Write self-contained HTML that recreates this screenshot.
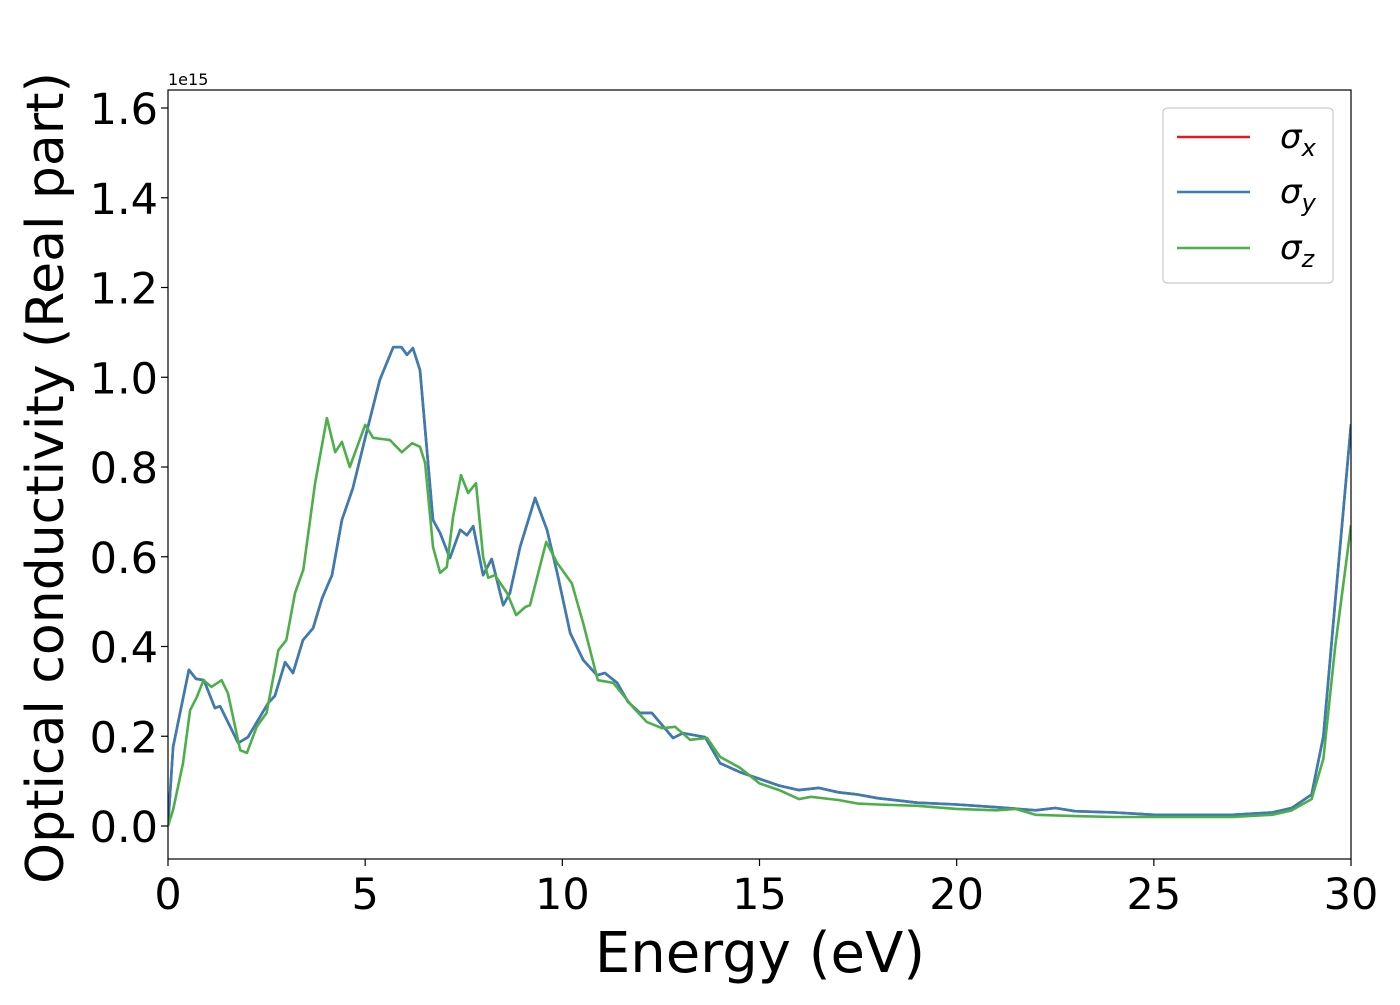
<!DOCTYPE html>
<html><head><meta charset="utf-8"><style>
body{margin:0;background:#fff}
svg text{font-family:"DejaVu Sans","Liberation Sans",sans-serif;fill:#000}
</style></head><body>
<svg width="1400" height="1000" viewBox="0 0 1400 1000">
<g id="plot"></g>
<text x="168" y="85" font-size="16">1e15</text>
<text x="760" y="972" font-size="56" text-anchor="middle">Energy (eV)</text>
<text transform="translate(63,478) rotate(-90)" font-size="52" text-anchor="middle">Optical conductivity (Real part)</text>
<g>
<rect x="1163" y="108" width="170" height="175" rx="4" fill="#fff" stroke="#ccc" stroke-width="1.2"/>
<g><line x1="1177" x2="1250" y1="137" y2="137" stroke="#e41a1c" stroke-width="2.6"/><text x="1280" y="148" font-size="34" font-style="italic">σ<tspan font-size="24" dy="8">x</tspan></text></g>
<g><line x1="1177" x2="1250" y1="192" y2="192" stroke="#377eb8" stroke-width="2.6"/><text x="1280" y="203" font-size="34" font-style="italic">σ<tspan font-size="24" dy="8">y</tspan></text></g>
<g><line x1="1177" x2="1250" y1="248" y2="248" stroke="#4daf4a" stroke-width="2.6"/><text x="1280" y="259" font-size="34" font-style="italic">σ<tspan font-size="24" dy="8">z</tspan></text></g>
</g>
</svg>
<script>
const xTicks=[0,5,10,15,20,25,30];
const yTicks=[0.0,0.2,0.4,0.6,0.8,1.0,1.2,1.4,1.6];
const eY=[0,0.13,0.53,0.71,0.91,1.19,1.32,1.78,2.03,2.54,2.71,2.97,3.17,3.42,3.68,3.91,4.16,4.41,4.69,5.05,5.37,5.71,5.92,6.06,6.21,6.39,6.72,6.9,7.15,7.41,7.58,7.74,7.99,8.21,8.5,8.67,8.93,9.31,9.61,9.87,10.2,10.53,10.88,11.08,11.39,11.67,11.97,12.27,12.81,13.06,13.62,14.0,14.5,15,15.5,16,16.5,17,17.5,18,19,20,21,22,22.5,23,24,25,26,27,28,28.5,29,29.3,29.6,30];
const sigY=[0,0.176,0.348,0.328,0.325,0.263,0.267,0.185,0.198,0.274,0.29,0.365,0.341,0.414,0.441,0.508,0.559,0.682,0.753,0.882,0.994,1.067,1.067,1.05,1.065,1.016,0.682,0.653,0.597,0.66,0.648,0.668,0.559,0.595,0.492,0.519,0.622,0.731,0.66,0.564,0.43,0.37,0.336,0.341,0.319,0.276,0.252,0.252,0.196,0.207,0.198,0.14,0.12,0.105,0.09,0.08,0.085,0.075,0.07,0.062,0.052,0.048,0.042,0.035,0.04,0.033,0.03,0.025,0.025,0.025,0.03,0.04,0.07,0.2,0.5,0.895];
const sigX=sigY.slice();
const eZ=[0,0.13,0.38,0.56,0.73,0.9,1.1,1.36,1.52,1.83,2.0,2.25,2.5,2.8,3.0,3.22,3.43,3.73,4.03,4.24,4.41,4.61,5.0,5.2,5.63,5.93,6.19,6.39,6.52,6.72,6.9,7.07,7.23,7.43,7.61,7.81,7.99,8.12,8.29,8.6,8.83,9.06,9.18,9.59,9.87,10.24,10.53,10.9,11.29,11.79,12.14,12.53,12.86,13.24,13.67,14.0,14.5,15,15.5,16,16.3,17,17.5,18,19,20,21,21.5,22,23,24,25,26,27,28,28.5,29,29.3,29.6,30];
const sigZ=[0,0.036,0.14,0.258,0.287,0.325,0.31,0.325,0.296,0.169,0.163,0.221,0.252,0.392,0.414,0.519,0.571,0.764,0.909,0.833,0.856,0.8,0.894,0.865,0.86,0.833,0.853,0.845,0.809,0.622,0.564,0.577,0.689,0.782,0.742,0.764,0.6,0.553,0.559,0.519,0.47,0.488,0.492,0.633,0.586,0.541,0.452,0.325,0.319,0.265,0.232,0.218,0.221,0.192,0.196,0.154,0.13,0.095,0.08,0.06,0.065,0.058,0.05,0.048,0.045,0.038,0.035,0.038,0.025,0.022,0.02,0.02,0.02,0.02,0.025,0.035,0.06,0.15,0.4,0.67];
const L=168,R=1351,T=90,B=859,Y0=826,YS=448.75;
const xs=v=>L+v*(R-L)/30, ys=v=>Y0-v*YS;
const NS='http://www.w3.org/2000/svg', g=document.getElementById('plot');
function mk(t,a,txt){const e=document.createElementNS(NS,t);for(const k in a)e.setAttribute(k,a[k]);if(txt!=null)e.textContent=txt;g.appendChild(e);return e;}
function series(E,V,c,n){const d=E.map((x,i)=>(i?'L':'M')+xs(x).toFixed(1)+','+ys(V[i]).toFixed(1)).join('');
const p=mk('path',{d:d,fill:'none',stroke:c,'stroke-width':2.6,'stroke-linejoin':'round','clip-path':'url(#clip)'});

}
const cp=document.createElementNS(NS,'clipPath');cp.id='clip';const cr=document.createElementNS(NS,'rect');
cr.setAttribute('x',L);cr.setAttribute('y',T);cr.setAttribute('width',R-L);cr.setAttribute('height',B-T);cp.appendChild(cr);g.appendChild(cp);
series(eY,sigX,'#e41a1c','sigma-x-line');
series(eY,sigY,'#377eb8','sigma-y-line');
series(eZ,sigZ,'#4daf4a','sigma-z-line');
const fr=mk('rect',{x:L,y:T,width:R-L,height:B-T,fill:'none',stroke:'#000','stroke-width':1.2});


xTicks.forEach(v=>{mk('line',{x1:xs(v),x2:xs(v),y1:B,y2:B+7,stroke:'#000','stroke-width':1.2});
const t=mk('text',{x:xs(v),y:B+50,'font-size':43,'text-anchor':'middle'},String(v));

});
yTicks.forEach(v=>{mk('line',{x1:L-7,x2:L,y1:ys(v),y2:ys(v),stroke:'#000','stroke-width':1.2});
const t=mk('text',{x:L-10,y:ys(v)+16,'font-size':43,'text-anchor':'end'},v.toFixed(1));

});
</script>
</body></html>
